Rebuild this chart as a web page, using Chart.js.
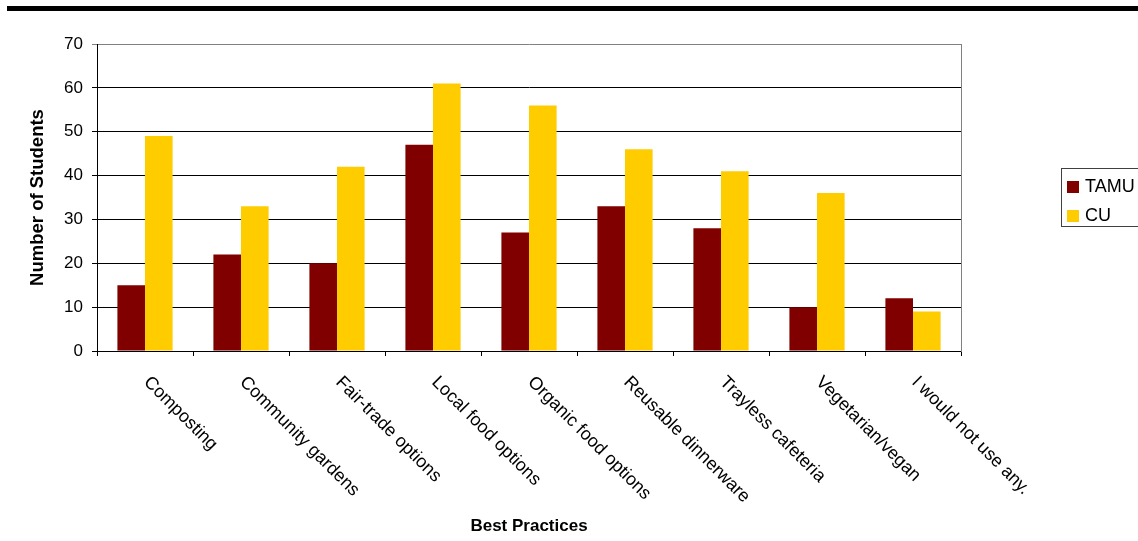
<!DOCTYPE html>
<html>
<head>
<meta charset="utf-8">
<script src="https://cdn.jsdelivr.net/npm/chart.js@4"></script>
<style>
  body { margin: 0; width: 1138px; height: 541px; overflow: hidden; background: #fff; font-family: "Liberation Sans", Arial, sans-serif; }
  #topbar { position: absolute; left: 7px; right: 0; top: 6px; height: 5px; background: #000; }
  #wrap { position: absolute; left: 0; top: 0; width: 1138px; height: 541px; }
  #legend { position: absolute; left: 1061px; top: 168px; width: 90px; height: 57px; border: 1px solid #404040; }
  .item { position: absolute; left: 5px; font-size: 18px; line-height: 18px; }
  .item span { display: inline-block; width: 12px; height: 12px; margin-right: 6px; vertical-align: -1px; }
</style>
</head>
<body>
<div id="topbar"></div>
<div id="wrap"><canvas id="chart-practicas"></canvas></div>
<div id="legend"></div>
<script>
const categorias = ['Composting', 'Community gardens', 'Fair-trade options', 'Local food options',
  'Organic food options', 'Reusable dinnerware', 'Trayless cafeteria', 'Vegetarian/vegan', 'I would not use any.'];
const valoresTAMU = [15, 22, 20, 47, 27, 33, 28, 10, 12];
const valoresCU = [49, 33, 42, 61, 56, 46, 41, 36, 9];
const ticksY = [0, 10, 20, 30, 40, 50, 60, 70];

const colorTAMU = '#800000';
const colorCU = '#FFCC00';

Chart.defaults.font.family = '"Liberation Sans", Arial, sans-serif';
Chart.defaults.color = '#000';

// etiquetas del eje x giradas hacia abajo a la derecha
const etiquetasX = {
    id: 'etiquetasX',
    afterDraw(chart) {
        const ctx = chart.ctx;
        const escala = chart.scales.x;
        ctx.save();
        ctx.font = '18px "Liberation Sans", Arial, sans-serif';
        ctx.fillStyle = '#000';
        ctx.textAlign = 'left';
        ctx.textBaseline = 'alphabetic';
        categorias.forEach((texto, i) => {
            const x = escala.getPixelForValue(i);
            ctx.save();
            ctx.translate(x - 2, escala.top + 32);
            ctx.rotate(Math.PI / 4);
            ctx.fillText(texto, 0, 0);
            ctx.restore();
        });
        ctx.restore();
    }
};

const config = {
    type: 'bar',
    data: {
        labels: categorias,
        datasets: [
            { label: 'TAMU', data: valoresTAMU, backgroundColor: colorTAMU, borderWidth: 0 },
            { label: 'CU', data: valoresCU, backgroundColor: colorCU, borderWidth: 0 }
        ]
    },
    options: {
        responsive: true,
        maintainAspectRatio: false,
        devicePixelRatio: 1,
        animation: false,
        categoryPercentage: 0.575,
        barPercentage: 1,
        layout: { padding: { top: 44, right: 177, bottom: 0, left: 0 } },
        plugins: { legend: { display: false }, tooltip: { enabled: false } },
        scales: {
            x: {
                grid: { offset: true, drawOnChartArea: false, drawTicks: true, tickLength: 5, color: '#000' },
                border: { color: '#000' },
                ticks: { display: false },
                title: { display: true, text: 'Best Practices', font: { size: 17, weight: 'bold' }, padding: { top: 0, bottom: 4 } },
                afterFit: (escala) => { escala.height = 190; }
            },
            y: {
                min: 0,
                max: 70,
                afterBuildTicks: (escala) => { escala.ticks = ticksY.map(v => ({ value: v })); },
                ticks: { font: { size: 17 }, padding: 9 },
                grid: {
                    tickLength: 5,
                    color: (c) => c.tick && c.tick.value === 70 ? '#808080' : '#000'
                },
                border: { color: '#000' },
                title: { display: true, text: 'Number of Students', font: { size: 18.5, weight: 'bold' }, padding: { top: 27, bottom: 0 } },
                afterFit: (escala) => { escala.width = 97; }
            },
            borde: {
                type: 'linear',
                position: 'right',
                min: 0,
                max: 70,
                grid: { drawOnChartArea: false, drawTicks: false },
                ticks: { display: false },
                border: { color: '#808080' },
                afterFit: (escala) => { escala.width = 0; }
            }
        }
    },
    plugins: [etiquetasX]
};

new Chart(document.querySelector('#chart-practicas'), config);

// leyenda con recuadro
const leyenda = document.querySelector('#legend');
config.data.datasets.forEach((d, i) => {
    const item = document.createElement('div');
    item.className = 'item';
    item.style.top = (8 + i * 29) + 'px';
    item.innerHTML = `<span style="background:${d.backgroundColor}"></span>${d.label}`;
    leyenda.appendChild(item);
});
</script>
</body>
</html>
